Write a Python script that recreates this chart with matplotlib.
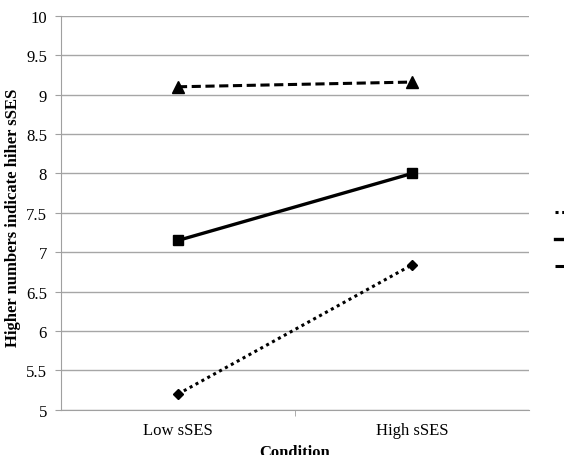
import matplotlib
matplotlib.use("Agg")
import matplotlib.pyplot as plt
from matplotlib.lines import Line2D

plt.rcParams['font.family'] = ['Liberation Serif', 'DejaVu Serif']

conditions = ['Low sSES', 'High sSES']
dotted_vals = [5.2, 6.84]
solid_vals = [7.15, 8.0]
dashed_vals = [9.1, 9.16]
yticks = [5, 5.5, 6, 6.5, 7, 7.5, 8, 8.5, 9, 9.5, 10]

fig = plt.figure(figsize=(5.64, 4.56), dpi=100)
ax = fig.add_axes([0.108, 0.099, 0.830, 0.864])

xpos = [0.5, 1.5]
ax.plot(xpos, dotted_vals, color='black', linestyle=(0, (1, 1.2)), linewidth=2.2,
        marker='D', markersize=5)
ax.plot(xpos, solid_vals, color='black', linestyle='-', linewidth=2.4,
        marker='s', markersize=7.5)
ax.plot(xpos, dashed_vals, color='black', linestyle=(0, (3, 1.5)), linewidth=2.2,
        marker='^', markersize=8)

ax.set_xlim(0, 2)
ax.set_ylim(5, 10)
ax.set_yticks(yticks)
ax.set_yticklabels([f'{t:g}' for t in yticks], fontsize=12)
ax.set_xticks(xpos)
ax.set_xticklabels(conditions, fontsize=12)
ax.set_xticks([1], minor=True)
ax.tick_params(axis='x', which='major', length=0, pad=9)
ax.tick_params(axis='x', which='minor', length=4, color='#a0a0a0')
ax.tick_params(axis='y', length=4, color='#a0a0a0', pad=6)
ax.grid(axis='y', color='#a6a6a6', linewidth=1)
ax.set_axisbelow(True)
for s in ['top', 'right']:
    ax.spines[s].set_visible(False)
for s in ['left', 'bottom']:
    ax.spines[s].set_color('#a0a0a0')

ax.set_ylabel('Higher numbers indicate hiher sSES', fontsize=12, fontweight='bold', labelpad=7)
ax.yaxis.set_label_coords(-0.085, 0.49)
ax.set_xlabel('Condition', fontsize=12, fontweight='bold', labelpad=4)

h1 = Line2D([], [], color='black', linestyle=(0, (1, 1.2)), linewidth=2.2)
h2 = Line2D([], [], color='black', linestyle='-', linewidth=2.4)
h3 = Line2D([], [], color='black', linestyle=(0, (3, 1.5)), linewidth=2.2)
fig.legend([h1, h2, h3], ['', '', ''], loc='center left', bbox_to_anchor=(0.975, 0.471),
           frameon=False, handlelength=2, labelspacing=1.0, borderaxespad=0, fontsize=10,
           handletextpad=0)

fig.savefig('out.png', dpi=100)
